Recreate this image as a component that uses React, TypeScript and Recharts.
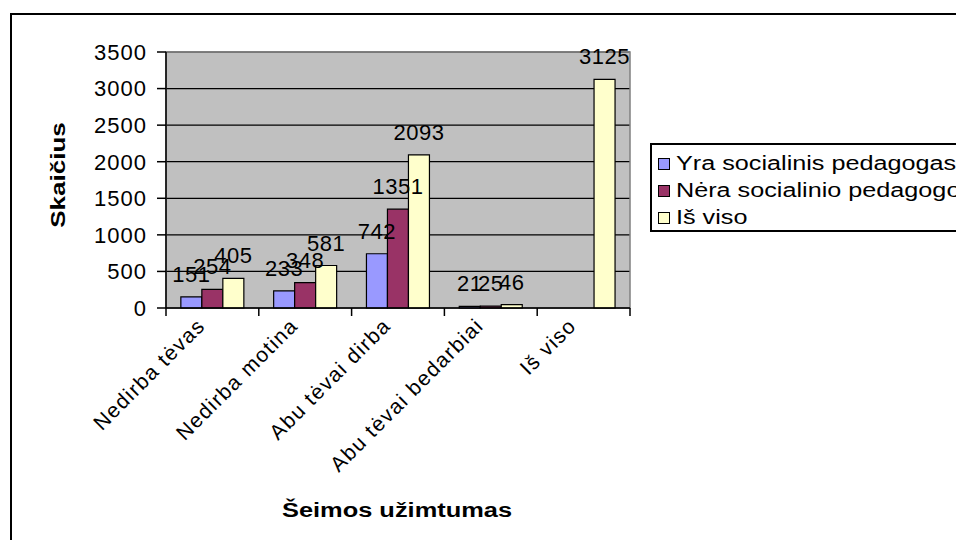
import React from 'react';
import {
  BarChart,
  Bar,
  XAxis,
  YAxis,
  CartesianGrid,
  LabelList,
  ReferenceArea,
} from 'recharts';

const categories = ['Nedirba tėvas', 'Nedirba motina', 'Abu tėvai dirba', 'Abu tėvai bedarbiai', 'Iš viso'];
const yraSocialinis = [151, 233, 742, 21, null];
const neraSocialinio = [254, 348, 1351, 25, null];
const isViso = [405, 581, 2093, 46, 3125];
const yTicks = [0, 500, 1000, 1500, 2000, 2500, 3000, 3500];

const seriesNames = ['Yra socialinis pedagogas', 'Nėra socialinio pedagogo', 'Iš viso'];
const seriesColors = ['#9999FF', '#993366', '#FFFFCC'];

const data = categories.map((c, i) => ({
  name: c,
  yra: yraSocialinis[i],
  nera: neraSocialinio[i],
  total: isViso[i],
}));

const FONT = '"Liberation Sans", Arial, sans-serif';
const PLOT_LEFT = 166;
const PLOT_RIGHT = 630;
const PLOT_TOP = 52;
const PLOT_BOTTOM = 308;
const BAND = (PLOT_RIGHT - PLOT_LEFT) / categories.length;

const XTick = (props: any) => {
  const { x, y, payload, index } = props;
  const left = x - BAND / 2;
  const ax = x - 6;
  const ay = y + 19;
  return (
    <g>
      <line x1={left} y1={y} x2={left} y2={y + 8} stroke="#000" strokeWidth={1.5} />
      {index === categories.length - 1 && (
        <line x1={x + BAND / 2} y1={y} x2={x + BAND / 2} y2={y + 8} stroke="#000" strokeWidth={1.5} />
      )}
      <text
        x={ax}
        y={ay}
        textAnchor="end"
        transform={`rotate(-45, ${ax}, ${ay})`}
        fontSize={21}
        letterSpacing={1.4}
        fontFamily={FONT}
        fill="#000"
      >
        {payload.value}
      </text>
    </g>
  );
};

export default function App() {
  const keys = ['yra', 'nera', 'total'];
  return (
    <div style={{ position: 'fixed', left: 0, top: 0, width: 956, height: 540, background: '#fff', overflow: 'hidden', fontFamily: FONT }}>
      <div style={{ position: 'absolute', left: 10, top: 13, width: 990, height: 560, border: '2px solid #000', boxSizing: 'border-box' }} />
      <BarChart
        width={956}
        height={540}
        data={data}
        margin={{ top: PLOT_TOP, left: PLOT_LEFT - 80, right: 956 - PLOT_RIGHT, bottom: 540 - PLOT_BOTTOM - 100 }}
        barCategoryGap="16%"
        barGap={0}
      >
        <CartesianGrid vertical={false} stroke="#000" strokeWidth={1.2} fill="#C0C0C0" fillOpacity={1} />
        <ReferenceArea y1={0} y2={3500} fill="none" stroke="#808080" strokeWidth={1.5} />
        <XAxis
          dataKey="name"
          height={100}
          interval={0}
          tickLine={false}
          tickSize={0}
          tickMargin={0}
          axisLine={{ stroke: '#000', strokeWidth: 1.5 }}
          tick={<XTick />}
        />
        <YAxis
          width={80}
          domain={[0, 3500]}
          ticks={yTicks}
          interval={0}
          tickSize={9}
          tickMargin={10}
          axisLine={{ stroke: '#000', strokeWidth: 1.5 }}
          tickLine={{ stroke: '#000', strokeWidth: 1.5 }}
          tick={{ fill: '#000', fontSize: 22, fontFamily: FONT, letterSpacing: 1 }}
        />
        {keys.map((k, i) => (
          <Bar key={k} dataKey={k} fill={seriesColors[i]} stroke="#000" strokeWidth={1.2} isAnimationActive={false}>
            <LabelList dataKey={k} position="top" offset={15} fill="#000" fontSize={22} fontFamily={FONT} letterSpacing={0.5} />
          </Bar>
        ))}
      </BarChart>
      <div
        style={{
          position: 'absolute',
          left: 58,
          top: 175,
          transform: 'translate(-50%, -50%) rotate(-90deg) scaleX(1.3)',
          fontWeight: 'bold',
          fontSize: 20,
          whiteSpace: 'nowrap',
        }}
      >
        Skaičius
      </div>
      <div
        style={{
          position: 'absolute',
          left: 397,
          top: 510,
          transform: 'translate(-50%, -50%) scaleX(1.27)',
          fontWeight: 'bold',
          fontSize: 20,
          whiteSpace: 'nowrap',
        }}
      >
        Šeimos užimtumas
      </div>
      <div
        style={{
          position: 'absolute',
          left: 650,
          top: 143,
          width: 340,
          height: 89,
          border: '2px solid #000',
          boxSizing: 'border-box',
          background: '#fff',
          padding: '5px 0 0 6px',
        }}
      >
        {seriesNames.map((n, i) => (
          <div key={n} style={{ display: 'flex', alignItems: 'center', height: 27, fontSize: 20, whiteSpace: 'nowrap' }}>
            <span style={{ width: 10, height: 10, background: seriesColors[i], border: '1.5px solid #000', marginRight: 6, flexShrink: 0 }} />
            <span style={{ display: 'inline-block', transform: 'scaleX(1.26)', transformOrigin: 'left center' }}>{n}</span>
          </div>
        ))}
      </div>
    </div>
  );
}
